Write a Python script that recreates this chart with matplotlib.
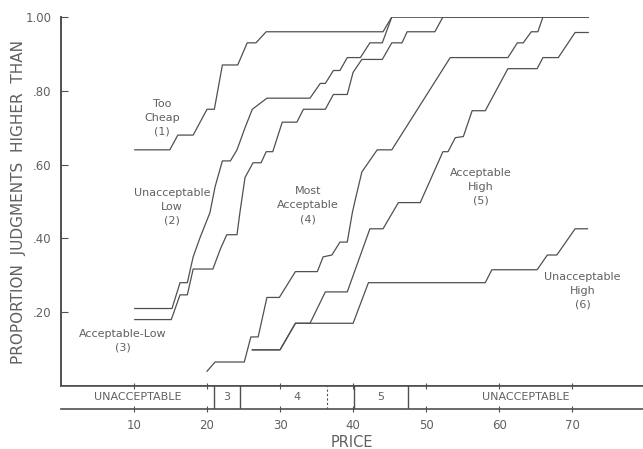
import matplotlib.pyplot as plt

# --- data (price, proportion) ---
price_too_cheap = [10.1, 14.9, 16.0, 18.1, 20.0, 21.0, 22.1, 24.2, 25.5, 26.7, 28.1, 44.1, 45.3, 72.2]
prop_too_cheap = [0.64, 0.64, 0.68, 0.68, 0.75, 0.75, 0.87, 0.87, 0.93, 0.93, 0.96, 0.96, 1.00, 1.00]

price_unacc_low = [10.1, 15.2, 16.3, 17.3, 18.1, 19.0, 20.4, 21.1, 22.1, 23.2, 24.1, 25.2, 26.2, 28.2,
                   34.1, 35.5, 36.2, 37.3, 38.2, 39.2, 41.0, 42.3, 44.0, 45.3, 72.2]
prop_unacc_low = [0.21, 0.21, 0.28, 0.28, 0.35, 0.40, 0.47, 0.54, 0.61, 0.61, 0.64, 0.70, 0.75, 0.78,
                  0.78, 0.82, 0.82, 0.855, 0.855, 0.89, 0.89, 0.93, 0.93, 1.00, 1.00]

price_acc_low = [10.1, 15.1, 16.3, 17.3, 18.1, 20.8, 21.8, 22.7, 24.1, 24.5, 25.2, 26.3, 27.4, 28.1,
                 29.0, 30.3, 32.3, 33.2, 36.2, 37.3, 39.2, 40.0, 41.2, 44.0, 45.3, 46.7, 47.4, 51.2,
                 52.3, 72.2]
prop_acc_low = [0.18, 0.18, 0.247, 0.247, 0.317, 0.317, 0.37, 0.41, 0.41, 0.47, 0.565, 0.605, 0.605, 0.635,
                0.635, 0.715, 0.715, 0.75, 0.75, 0.79, 0.79, 0.85, 0.885, 0.885, 0.93, 0.93, 0.96, 0.96,
                1.00, 1.00]

price_most_acc = [20.0, 21.1, 25.1, 26.0, 27.0, 28.2, 29.9, 32.1, 35.1, 35.9, 37.1, 38.2, 39.2, 39.9,
                  40.3, 41.2, 43.3, 45.3, 53.3, 61.2, 62.5, 63.3, 64.4, 65.3, 66.0, 72.2]
prop_most_acc = [0.04, 0.065, 0.065, 0.133, 0.133, 0.24, 0.24, 0.31, 0.31, 0.35, 0.355, 0.39, 0.39, 0.47,
                 0.505, 0.58, 0.64, 0.64, 0.89, 0.89, 0.93, 0.93, 0.96, 0.96, 1.00, 1.00]

price_acc_high = [26.2, 30.0, 32.1, 34.1, 36.2, 39.2, 42.3, 44.1, 46.2, 49.2, 52.3, 53.0, 54.0, 55.1,
                  56.3, 58.1, 61.2, 65.2, 66.0, 68.1, 70.4, 72.2]
prop_acc_high = [0.098, 0.098, 0.17, 0.17, 0.255, 0.255, 0.426, 0.426, 0.497, 0.497, 0.635, 0.635, 0.673, 0.676,
                 0.746, 0.746, 0.86, 0.86, 0.89, 0.89, 0.958, 0.958]

price_unacc_high = [26.2, 30.0, 32.1, 40.0, 42.1, 58.1, 59.0, 65.2, 66.6, 67.9, 70.4, 72.1]
prop_unacc_high = [0.098, 0.098, 0.17, 0.17, 0.28, 0.28, 0.315, 0.315, 0.355, 0.355, 0.426, 0.426]

curve_labels = ['Too\nCheap\n(1)', 'Unacceptable\nLow\n(2)', 'Acceptable-Low\n(3)',
                'Most\nAcceptable\n(4)', 'Acceptable\nHigh\n(5)', 'Unacceptable\nHigh\n(6)']
label_x = [13.8, 15.2, 8.5, 33.8, 57.5, 71.4]
label_y = [0.727, 0.486, 0.122, 0.49, 0.54, 0.258]

# zones of the band under the axis
zone_bounds = [21.0, 24.5, 40.1, 47.5]
zone_dashed = [36.4]
zone_text = ['UNACCEPTABLE', '3', '4', '5', 'UNACCEPTABLE']
zone_x = [10.5, 22.75, 32.3, 43.8, 63.7]

yticks = [0.2, 0.4, 0.6, 0.8, 1.0]
ytick_labels = ['.20', '.40', '.60', '.80', '1.00']
xticks = [10, 20, 30, 40, 50, 60, 70]

ink = '#505050'
text_col = '#606060'
W, H = 643, 449
xmax = 79.7

fig = plt.figure(figsize=(W / 100, H / 100), dpi=100)
ax = fig.add_axes([61 / W, (H - 386) / H, (W - 61) / W, 369 / H])

curves = [(price_too_cheap, prop_too_cheap), (price_unacc_low, prop_unacc_low),
          (price_acc_low, prop_acc_low), (price_most_acc, prop_most_acc),
          (price_acc_high, prop_acc_high), (price_unacc_high, prop_unacc_high)]
for px, py in curves:
    ax.plot(px, py, color=ink, lw=0.9)

for txt, x, y in zip(curve_labels, label_x, label_y):
    ax.text(x, y, txt, ha='center', va='center', fontsize=8, color=text_col,
            linespacing=1.5)

ax.set_xlim(0, xmax)
ax.set_ylim(0, 1.0)
ax.spines['top'].set_visible(False)
ax.spines['right'].set_visible(False)
ax.spines['left'].set_color(ink)
ax.spines['bottom'].set_color(ink)
ax.spines['left'].set_linewidth(1.4)
ax.spines['bottom'].set_linewidth(1.4)
ax.set_xticks([])
ax.set_yticks(yticks)
ax.set_yticklabels(ytick_labels)
ax.tick_params(axis='y', direction='in', length=5, color=ink, labelcolor=text_col,
               labelsize=8.5, pad=7)
ax.set_ylabel('PROPORTION  JUDGMENTS  HIGHER  THAN', fontsize=11, color=text_col)
ax.yaxis.set_label_coords(-35 / 582, 0.5)

# band with the zones
band = fig.add_axes([61 / W, (H - 409) / H, (W - 61) / W, 23 / H])
band.set_xlim(0, xmax)
band.set_ylim(0, 1)
for s in ['left', 'right']:
    band.spines[s].set_visible(False)
for s in ['top', 'bottom']:
    band.spines[s].set_color(ink)
    band.spines[s].set_linewidth(1.2)
for b in zone_bounds:
    band.axvline(b, color=ink, lw=1.0)
for b in zone_dashed:
    band.axvline(b, color=ink, lw=0.8, ls=(0, (2, 2)))
for txt, x in zip(zone_text, zone_x):
    band.text(x, 0.5, txt, ha='center', va='center', fontsize=8, color=text_col)
band.set_yticks([])
band.set_xticks(xticks)
band.tick_params(axis='x', direction='inout', length=5, color=ink, top=True,
                 labelcolor=text_col, labelsize=8.5, pad=5)
band.set_xlabel('PRICE', fontsize=10.5, color=text_col, labelpad=2)

fig.savefig('out.png', dpi=100, facecolor='white')
